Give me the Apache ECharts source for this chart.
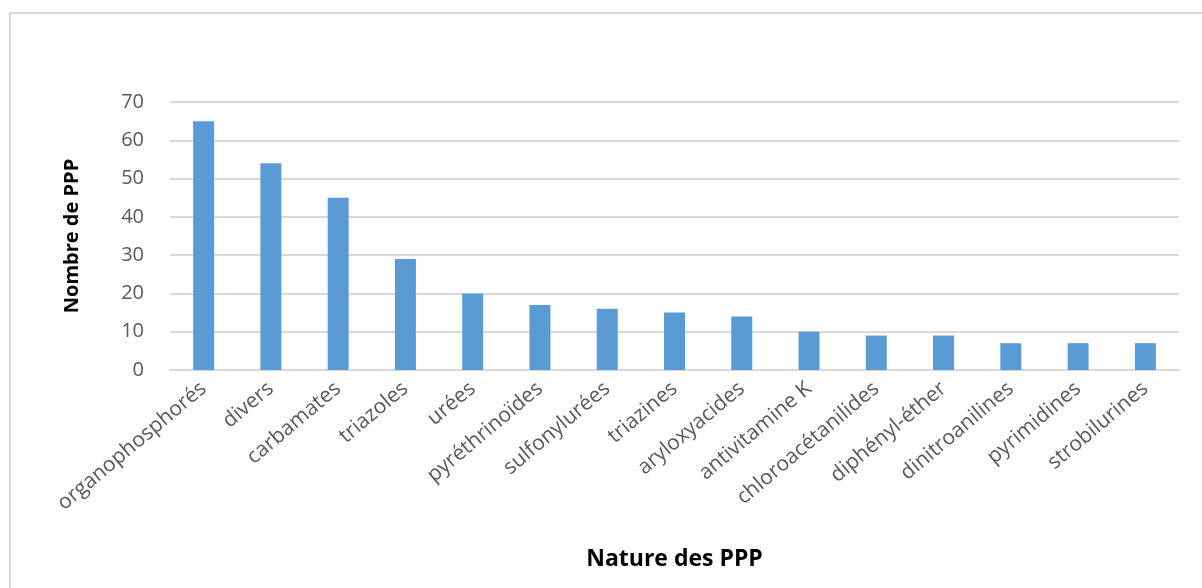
<!DOCTYPE html>
<html>
<head>
<meta charset="utf-8">
<script src="https://cdn.jsdelivr.net/npm/echarts@6/dist/echarts.min.js"></script>
<style>
  html, body { margin: 0; padding: 0; background: #fff; }
  #frame { position: absolute; left: 9px; top: 12px; width: 1200px; height: 590px; border: 2px solid #d9d9d9; box-sizing: border-box; }
  #chart { position: absolute; left: 0; top: 0; width: 1202px; height: 588px; }
</style>
</head>
<body>
<div id="frame"></div>
<div id="chart"></div>
<script>
const categories = ['organophosphorés', 'divers', 'carbamates', 'triazoles', 'urées', 'pyréthrinoïdes',
  'sulfonylurées', 'triazines', 'aryloxyacides', 'antivitamine K', 'chloroacétanilides',
  'diphényl-éther', 'dinitroanilines', 'pyrimidines', 'strobilurines'];
const counts = [65, 54, 45, 29, 20, 17, 16, 15, 14, 10, 9, 9, 7, 7, 7];

const myChart = echarts.init(document.getElementById('chart'));

const option = {
  animation: false,
  grid: { left: 170, right: 23, top: 102, bottom: 218 },
  xAxis: {
    type: 'category',
    data: categories,
    name: 'Nature des PPP',
    nameLocation: 'middle',
    nameGap: 178,
    nameTextStyle: { fontFamily: 'Open Sans', fontWeight: 'bold', fontSize: 23, color: '#000' },
    axisLine: { lineStyle: { color: '#d9d9d9', width: 2 } },
    axisTick: { show: false },
    axisLabel: {
      interval: 0,
      rotate: 40,
      fontFamily: 'Open Sans',
      fontSize: 21,
      color: '#595959',
      margin: 16
    }
  },
  yAxis: {
    type: 'value',
    min: 0,
    max: 70,
    interval: 10,
    name: 'Nombre de PPP',
    nameLocation: 'middle',
    nameGap: 88,
    nameTextStyle: { fontFamily: 'Open Sans', fontWeight: 'bold', fontSize: 20, color: '#000' },
    axisLabel: { fontFamily: 'Open Sans', fontSize: 20, color: '#595959', margin: 26 },
    splitLine: { lineStyle: { color: '#d9d9d9', width: 2 } }
  },
  series: [{
    type: 'bar',
    data: counts,
    barWidth: 21,
    itemStyle: { color: '#5b9bd5' }
  }]
};

myChart.setOption(option);
</script>
</body>
</html>
